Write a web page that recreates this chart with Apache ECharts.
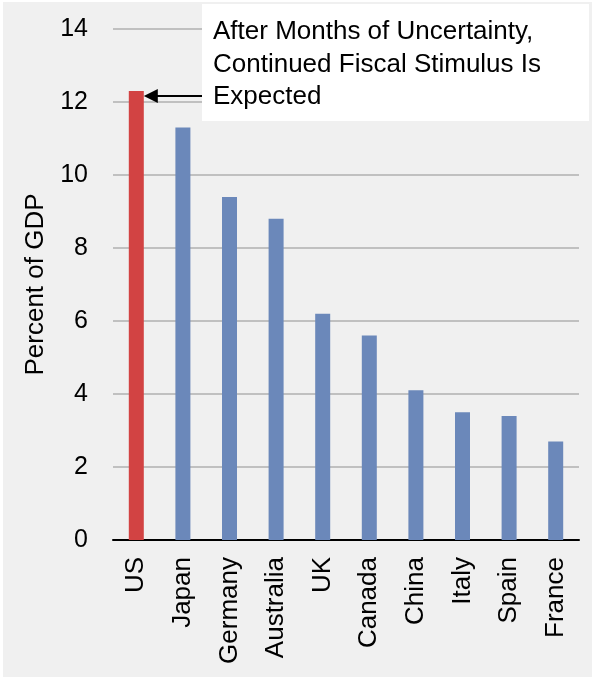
<!DOCTYPE html>
<html>
<head>
<meta charset="utf-8">
<script src="https://cdn.jsdelivr.net/npm/echarts@6/dist/echarts.min.js"></script>
<style>
html,body{margin:0;padding:0;background:#ffffff;}
#chart{width:592px;height:681px;}
</style>
</head>
<body>
<div id="chart"></div>
<script>
const categories = ['US','Japan','Germany','Australia','UK','Canada','China','Italy','Spain','France'];
const values = [12.3, 11.3, 9.4, 8.8, 6.2, 5.6, 4.1, 3.5, 3.4, 2.7];
const highlightIndex = 0;
const yTicks = {min: 0, max: 14, interval: 2};
const yAxisName = 'Percent of GDP';
const annotationLines = ['After Months of Uncertainty,', 'Continued Fiscal Stimulus Is', 'Expected'];

const FONT = '"Liberation Sans", Arial, sans-serif';
const chart = echarts.init(document.getElementById('chart'), null, {renderer: 'canvas'});

const barData = values.map((v, i) => ({
  value: v,
  itemStyle: {color: i === highlightIndex ? '#d24343' : '#6b88ba'}
}));

const option = {
  backgroundColor: '#ffffff',
  animation: false,
  grid: {left: 113, right: 13, top: 29, bottom: 141, containLabel: false},
  xAxis: {
    type: 'category',
    data: categories,
    axisLine: {show: true, lineStyle: {color: '#000000', width: 2}},
    axisTick: {show: false},
    axisLabel: {rotate: 90, fontSize: 26, color: '#000000', fontFamily: FONT, margin: 17, interval: 0}
  },
  yAxis: {
    type: 'value',
    min: yTicks.min, max: yTicks.max, interval: yTicks.interval,
    name: yAxisName,
    nameLocation: 'middle',
    nameGap: 57,
    nameTextStyle: {fontSize: 26, color: '#000000', fontFamily: FONT},
    axisLine: {show: false},
    axisTick: {show: false},
    axisLabel: {fontSize: 25, color: '#000000', fontFamily: FONT, margin: 25},
    splitLine: {lineStyle: {color: '#c0c0c0', width: 2}}
  },
  series: [{
    type: 'bar',
    data: barData,
    barWidth: 15,
    z: 3
  }],
  graphic: []
};
chart.setOption(option);

// annotation graphics
const usTop = chart.convertToPixel({gridIndex: 0}, [categories[highlightIndex], values[highlightIndex]]);
const barRight = usTop[0] + 7.5;
const arrowY = 96;
const boxLeft = 202;
chart.setOption({
  graphic: [
    {type: 'rect', z: -10, silent: true, shape: {x: 3, y: 2, width: 589, height: 675}, style: {fill: '#f0f0f0'}},
    {type: 'rect', z: 10, shape: {x: boxLeft, y: 4, width: 387, height: 117}, style: {fill: '#ffffff'}},
    {type: 'text', z: 11, left: 213, top: 16, style: {
      text: annotationLines.join('\n'), fontSize: 26, lineHeight: 32.5, fill: '#000000', fontFamily: FONT
    }},
    {type: 'line', z: 11, shape: {x1: boxLeft, y1: arrowY, x2: barRight + 12, y2: arrowY}, style: {stroke: '#000000', lineWidth: 2}},
    {type: 'polygon', z: 11, shape: {points: [[barRight, arrowY], [barRight + 14, arrowY - 7], [barRight + 14, arrowY + 7]]}, style: {fill: '#000000'}}
  ]
});
</script>
</body>
</html>
